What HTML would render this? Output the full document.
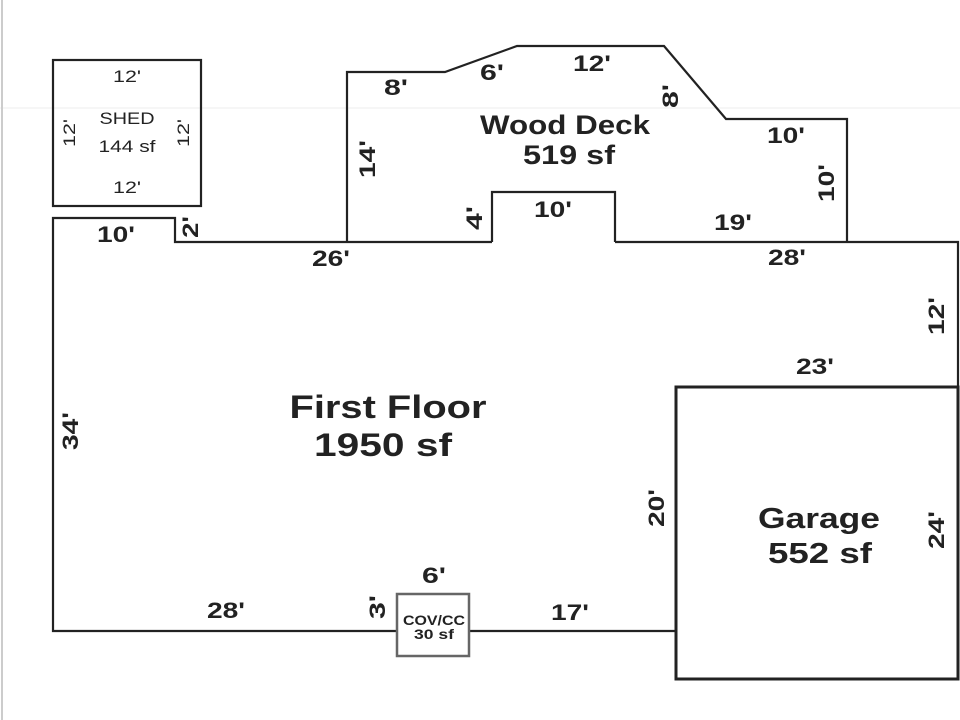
<!DOCTYPE html>
<html><head><meta charset="utf-8"><style>
html,body{margin:0;padding:0;background:#fff;}
svg{display:block;}
text{font-family:"Liberation Sans",sans-serif;fill:#222;}
.d{font-size:22px;font-weight:bold;}
.t{font-size:32px;font-weight:bold;}
.s{font-size:17px;}
</style></head><body>
<svg width="960" height="720" viewBox="0 0 960 720" xmlns="http://www.w3.org/2000/svg">
<line x1="0" y1="108" x2="960" y2="108" stroke="#eee" stroke-width="1"/>
<line x1="2" y1="0" x2="2" y2="720" stroke="#ccc" stroke-width="2"/>
<g fill="none" stroke="#222" stroke-width="2.2">
<rect x="53" y="60" width="148" height="146"/>
<polyline points="492,242 175,242 175,218 53,218 53,631 397,631"/>
<polyline points="469,631 676,631"/>
<polyline points="615,242 958,242 958,386"/>
<polyline points="347,242 347,72 445,72 517,46 664,46 726,119 847,119 847,242"/>
<polyline points="492,242 492,192 615,192 615,242"/>
</g>
<rect x="676" y="387" width="282" height="292" fill="none" stroke="#222" stroke-width="3"/>
<rect x="397" y="594" width="72" height="62" fill="#fff" stroke="#666" stroke-width="2.5"/>
<g text-anchor="middle" lengthAdjust="spacingAndGlyphs">
<text class="s" x="127" y="82" textLength="28" lengthAdjust="spacingAndGlyphs">12'</text>
<text class="s" x="127" y="124" textLength="55" lengthAdjust="spacingAndGlyphs">SHED</text>
<text class="s" x="127" y="152" textLength="57" lengthAdjust="spacingAndGlyphs">144 sf</text>
<text class="s" x="127" y="193" textLength="28" lengthAdjust="spacingAndGlyphs">12'</text>
<text class="s" transform="translate(75,133) rotate(-90)" textLength="28" lengthAdjust="spacingAndGlyphs">12'</text>
<text class="s" transform="translate(189,133) rotate(-90)" textLength="28" lengthAdjust="spacingAndGlyphs">12'</text>
<text class="d" x="116" y="242" textLength="38" lengthAdjust="spacingAndGlyphs">10'</text>
<text class="d" transform="translate(198,227) rotate(-90)" textLength="22" lengthAdjust="spacingAndGlyphs">2'</text>
<text class="d" x="331" y="266" textLength="38" lengthAdjust="spacingAndGlyphs">26'</text>
<text class="d" x="396" y="95" textLength="24" lengthAdjust="spacingAndGlyphs">8'</text>
<text class="d" x="492" y="80" textLength="24" lengthAdjust="spacingAndGlyphs">6'</text>
<text class="d" x="592" y="71" textLength="38" lengthAdjust="spacingAndGlyphs">12'</text>
<text class="d" transform="translate(678,96) rotate(-90)" textLength="24" lengthAdjust="spacingAndGlyphs">8'</text>
<text class="d" x="786" y="143" textLength="38" lengthAdjust="spacingAndGlyphs">10'</text>
<text class="d" transform="translate(834,183) rotate(-90)" textLength="38" lengthAdjust="spacingAndGlyphs">10'</text>
<text class="d" transform="translate(375,159) rotate(-90)" textLength="38" lengthAdjust="spacingAndGlyphs">14'</text>
<text class="d" transform="translate(482,218) rotate(-90)" textLength="24" lengthAdjust="spacingAndGlyphs">4'</text>
<text class="d" x="553" y="217" textLength="38" lengthAdjust="spacingAndGlyphs">10'</text>
<text class="d" x="733" y="230" textLength="38" lengthAdjust="spacingAndGlyphs">19'</text>
<text class="d" x="787" y="265" textLength="38" lengthAdjust="spacingAndGlyphs">28'</text>
<text class="d" transform="translate(944,316) rotate(-90)" textLength="38" lengthAdjust="spacingAndGlyphs">12'</text>
<text class="d" x="815" y="374" textLength="38" lengthAdjust="spacingAndGlyphs">23'</text>
<text class="t" x="388" y="418" textLength="197" lengthAdjust="spacingAndGlyphs">First Floor</text>
<text class="t" x="383" y="456" textLength="138" lengthAdjust="spacingAndGlyphs">1950 sf</text>
<text class="t" x="565" y="134" style="font-size:27px" textLength="170" lengthAdjust="spacingAndGlyphs">Wood Deck</text>
<text class="t" x="569" y="164" style="font-size:27px" textLength="92" lengthAdjust="spacingAndGlyphs">519 sf</text>
<text class="t" x="819" y="528" style="font-size:29px" textLength="122" lengthAdjust="spacingAndGlyphs">Garage</text>
<text class="t" x="820" y="563" style="font-size:29px" textLength="104" lengthAdjust="spacingAndGlyphs">552 sf</text>
<text class="d" transform="translate(78,431) rotate(-90)" textLength="38" lengthAdjust="spacingAndGlyphs">34'</text>
<text class="d" transform="translate(664,508) rotate(-90)" textLength="38" lengthAdjust="spacingAndGlyphs">20'</text>
<text class="d" transform="translate(944,530) rotate(-90)" textLength="38" lengthAdjust="spacingAndGlyphs">24'</text>
<text class="d" x="226" y="618" textLength="38" lengthAdjust="spacingAndGlyphs">28'</text>
<text class="d" transform="translate(385,607) rotate(-90)" textLength="24" lengthAdjust="spacingAndGlyphs">3'</text>
<text class="d" x="434" y="583" textLength="24" lengthAdjust="spacingAndGlyphs">6'</text>
<text class="d" x="570" y="620" textLength="38" lengthAdjust="spacingAndGlyphs">17'</text>
<text x="434" y="625" style="font-size:14px;font-weight:bold" textLength="62" lengthAdjust="spacingAndGlyphs">COV/CC</text>
<text x="434" y="639" style="font-size:14px;font-weight:bold" textLength="40" lengthAdjust="spacingAndGlyphs">30 sf</text>
</g>
</svg>
</body></html>
